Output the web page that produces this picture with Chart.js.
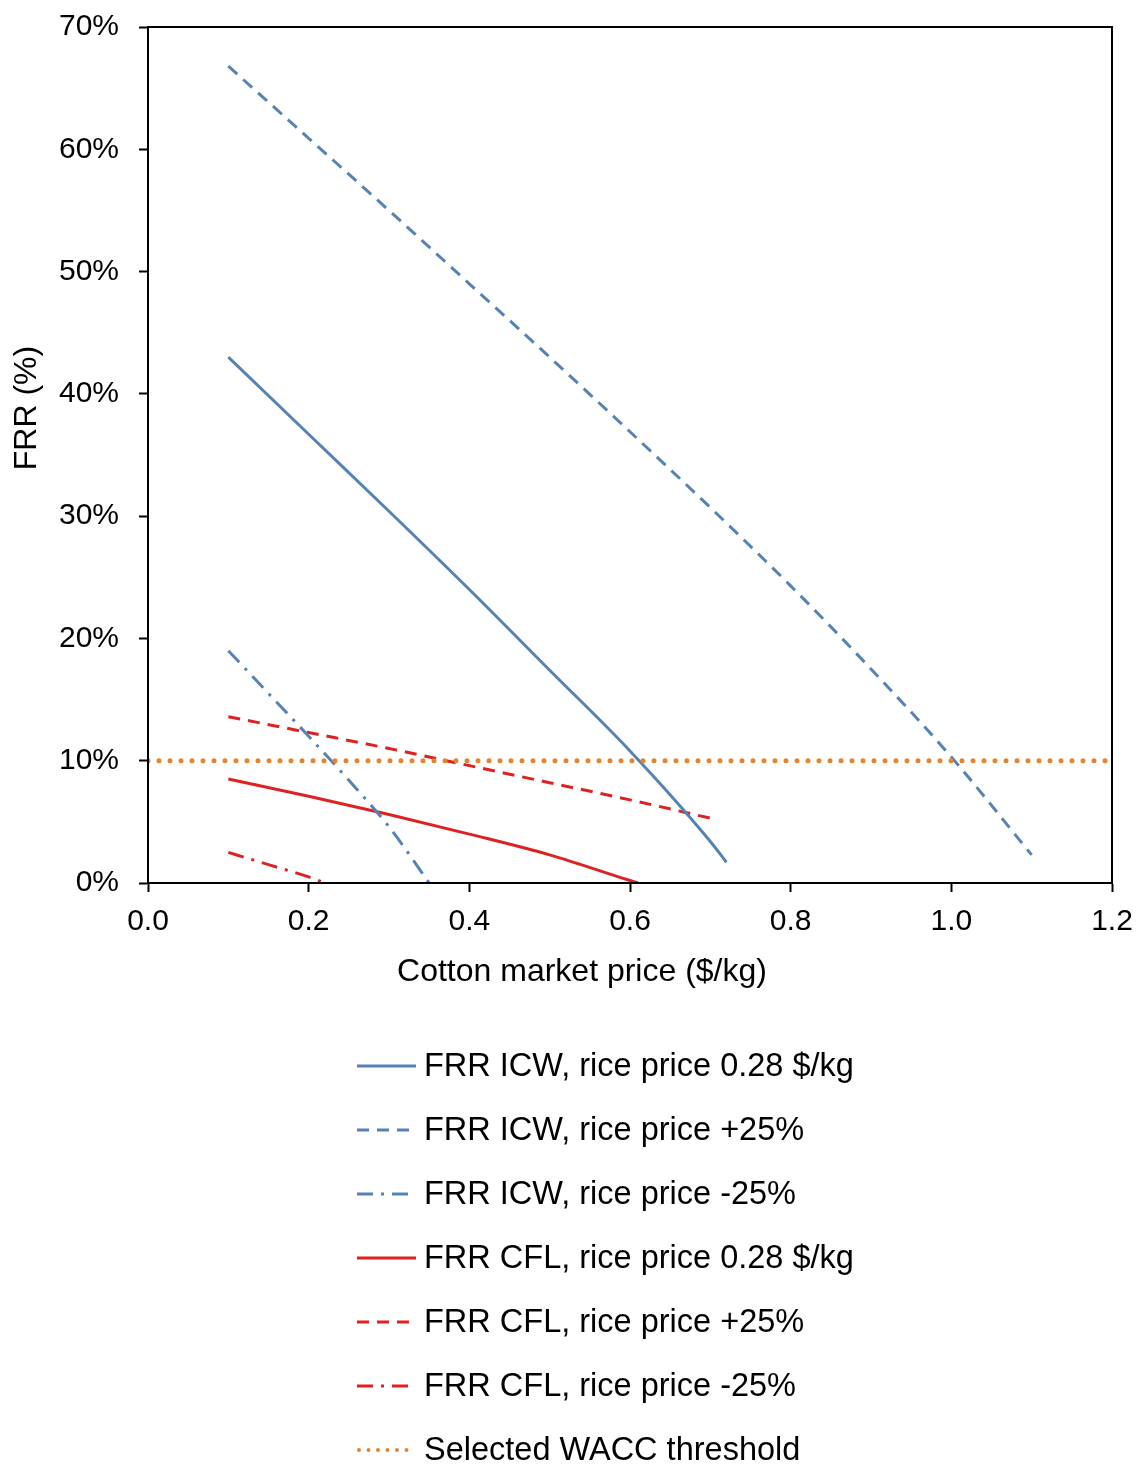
<!DOCTYPE html>
<html>
<head>
<meta charset="utf-8">
<script src="https://cdn.jsdelivr.net/npm/chart.js@4/dist/chart.umd.min.js"></script>
<style>
  body { margin: 0; background: #fff; }
  #wrap { width: 1138px; height: 1464px; }
</style>
</head>
<body>
<div id="wrap"><canvas id="frrChart" width="1138" height="1464"></canvas></div>
<script>
// values (x = cotton price $/kg, y = FRR %)
const icwBaseX = [0.1, 0.2, 0.3, 0.4, 0.5, 0.6, 0.7, 0.72];
const icwBaseY = [43.0, 36.7, 30.4, 24.0, 17.4, 10.8, 3.4, 1.7];
const icwPlusX = [0.1, 0.2, 0.3, 0.4, 0.5, 0.6, 0.7, 0.8, 0.9, 1.0, 1.1];
const icwPlusY = [66.8, 60.9, 55.0, 49.0, 43.0, 36.9, 30.7, 24.3, 17.5, 10.3, 2.3];
const icwMinusX = [0.1, 0.15, 0.2, 0.25, 0.3, 0.35];
const icwMinusY = [19.0, 15.5, 12.0, 8.4, 4.6, 0.0];
const cflBaseX = [0.1, 0.2, 0.3, 0.4, 0.5, 0.6, 0.61];
const cflBaseY = [8.5, 7.1, 5.6, 4.0, 2.3, 0.2, 0.0];
const cflPlusX = [0.1, 0.2, 0.3, 0.4, 0.5, 0.6, 0.7];
const cflPlusY = [13.6, 12.3, 11.0, 9.6, 8.2, 6.8, 5.3];
const cflMinusX = [0.1, 0.15, 0.2, 0.22];
const cflMinusY = [2.5, 1.5, 0.5, 0.0];
const waccX = [0, 1.2];
const waccY = [10, 10];

const xTicks = [0, 0.2, 0.4, 0.6, 0.8, 1.0, 1.2];
const yTicks = [0, 10, 20, 30, 40, 50, 60, 70];

const xTitle = 'Cotton market price ($/kg)';
const yTitle = 'FRR (%)';

const BLUE = '#5583b6';
const RED = '#dc2222';
const ORANGE = '#e5832f';
const FONT = '"Liberation Sans", Arial, sans-serif';

const pts = (xs, ys) => xs.map((x, i) => ({ x: x, y: ys[i] }));

const series = [
  { label: 'FRR ICW, rice price 0.28 $/kg', data: pts(icwBaseX, icwBaseY), color: BLUE, dash: [] },
  { label: 'FRR ICW, rice price +25%', data: pts(icwPlusX, icwPlusY), color: BLUE, dash: [12, 8] },
  { label: 'FRR ICW, rice price -25%', data: pts(icwMinusX, icwMinusY), color: BLUE, dash: [16, 8, 3, 8] },
  { label: 'FRR CFL, rice price 0.28 $/kg', data: pts(cflBaseX, cflBaseY), color: RED, dash: [] },
  { label: 'FRR CFL, rice price +25%', data: pts(cflPlusX, cflPlusY), color: RED, dash: [12, 8] },
  { label: 'FRR CFL, rice price -25%', data: pts(cflMinusX, cflMinusY), color: RED, dash: [16, 8, 3, 8] }
];

const datasets = series.map(s => ({
  label: s.label,
  data: s.data,
  borderColor: s.color,
  borderWidth: 3,
  borderDash: s.dash,
  pointRadius: 0,
  tension: 0.3,
  cubicInterpolationMode: 'monotone',
  fill: false
}));
datasets.push({
  label: 'Selected WACC threshold',
  data: pts(waccX, waccY),
  borderColor: ORANGE,
  borderWidth: 5,
  borderDash: [0, 11],
  borderCapStyle: 'round',
  pointRadius: 0,
  fill: false,
  order: -1
});

// frame, axis titles and one-column legend underneath
const extrasPlugin = {
  id: 'extras',
  afterDraw(chart) {
    const { ctx, chartArea: a } = chart;
    ctx.save();
    ctx.strokeStyle = '#000';
    ctx.lineWidth = 2;
    ctx.strokeRect(a.left, a.top, a.right - a.left, a.bottom - a.top);

    ctx.fillStyle = '#000';
    ctx.font = '32px ' + FONT;
    ctx.textAlign = 'center';
    ctx.textBaseline = 'middle';
    ctx.fillText(xTitle, 582, 972);
    ctx.save();
    ctx.translate(27, 408);
    ctx.rotate(-Math.PI / 2);
    ctx.fillText(yTitle, 0, 0);
    ctx.restore();

    ctx.font = '32.5px ' + FONT;
    ctx.textAlign = 'left';
    chart.data.datasets.forEach((ds, i) => {
      const y = 1066 + i * 64;
      const dotted = ds.borderWidth === 5;
      ctx.save();
      ctx.strokeStyle = ds.borderColor;
      ctx.lineWidth = dotted ? 4 : 3;
      ctx.lineCap = ds.borderCapStyle || 'butt';
      ctx.setLineDash(dotted ? [0, 9.5] : ds.borderDash);
      ctx.beginPath();
      ctx.moveTo(dotted ? 359 : 357, y);
      ctx.lineTo(416, y);
      ctx.stroke();
      ctx.restore();
      ctx.fillText(ds.label, 424, y + 1);
    });
    ctx.restore();
  }
};

const noOverflow = s => {
  s.paddingLeft = 0; s.paddingRight = 0; s.paddingTop = 0; s.paddingBottom = 0;
};

new Chart(document.getElementById('frrChart'), {
  type: 'line',
  data: { datasets: datasets },
  plugins: [extrasPlugin],
  options: {
    responsive: false,
    animation: false,
    layout: { padding: { left: 0, top: 27, right: 26, bottom: 1464 - 883 - 60 } },
    plugins: { legend: { display: false }, tooltip: { enabled: false } },
    scales: {
      x: {
        type: 'linear',
        min: 0,
        max: 1.2,
        afterFit: s => { s.height = 60; noOverflow(s); },
        afterBuildTicks: s => { s.ticks = xTicks.map(v => ({ value: v })); },
        grid: { drawOnChartArea: false, tickLength: 9, tickColor: '#000', tickWidth: 2 },
        border: { color: '#000', width: 2 },
        ticks: {
          padding: 12,
          color: '#000',
          font: { family: FONT, size: 30 },
          callback: v => v.toFixed(1)
        }
      },
      y: {
        min: 0,
        max: 70,
        afterFit: s => { s.width = 148; noOverflow(s); },
        afterBuildTicks: s => { s.ticks = yTicks.map(v => ({ value: v })); },
        grid: { drawOnChartArea: false, tickLength: 9, tickColor: '#000', tickWidth: 2 },
        border: { color: '#000', width: 2 },
        ticks: {
          padding: 20,
          color: '#000',
          font: { family: FONT, size: 30 },
          callback: v => v + '%'
        }
      }
    }
  }
});
</script>
</body>
</html>
